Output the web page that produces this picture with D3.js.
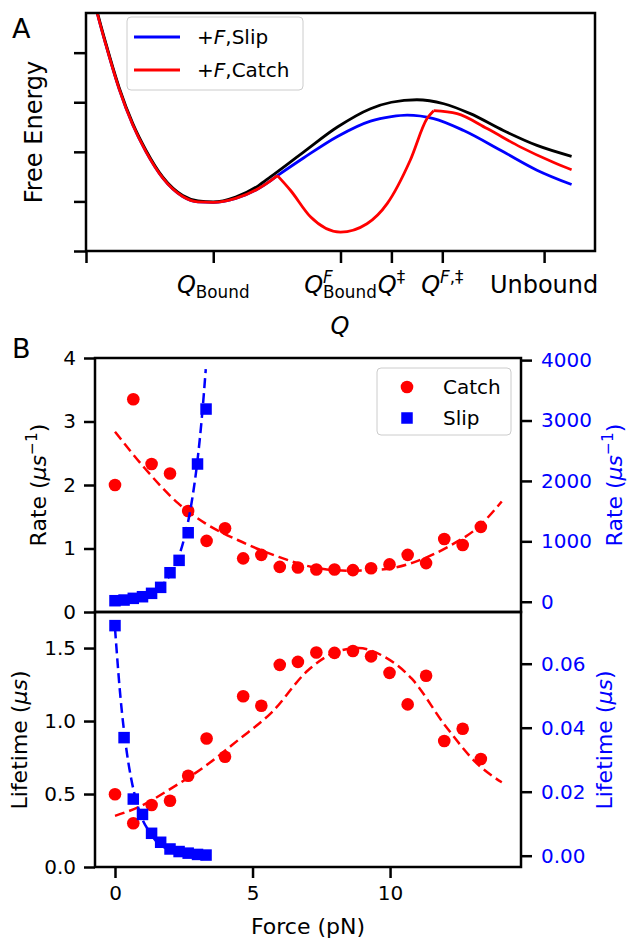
<!DOCTYPE html>
<html lang="en">
<head>
  <meta charset="UTF-8" />
  <title>Catch and slip bonds</title>
  <script src="https://d3js.org/d3.v7.min.js"></script>
  <style>
    body { margin: 0; background: #fff; }
    svg { font-family: "DejaVu Sans", sans-serif; }
    .tick line { stroke-width: 2.5; }
  </style>
</head>
<body>
<script>
  // ---------- Panel A: free energy landscape ----------
  const qTicks = [0, 2.5, 5, 6, 7, 9];
  const qTickLabels = [
    [],
    [["Q", "i"], ["Bound", "_r"]],
    [["Q", "i"], ["F", "^i"], ["Bound", "_r&"]],
    [["Q", "i"], ["‡", "^r"]],
    [["Q", "i"], ["F", "^i"], [",‡", "^r"]],
    [["Unbound", "r"]]
  ];
  const energyTicks = [0, 1, 2, 3, 4];

  // [Q, free energy]
  const freeCurve = [[0.12,5.25],[0.23,4.79],[0.39,4.19],[0.65,3.30],[0.92,2.57],[1.18,2.03],[1.51,1.49],[1.90,1.12],[2.2,1.01],[2.5,0.99],[2.94,1.09],[3.39,1.32],[3.63,1.50],[4.28,2.00],[4.94,2.50],[5.59,2.87],[6.0,3.0],[6.5,3.05],[7.03,2.97],[7.55,2.77],[8.20,2.43],[8.86,2.13],[9.54,1.91]];
  const slipCurve = [[0.12,5.22],[0.23,4.76],[0.39,4.16],[0.65,3.27],[0.92,2.54],[1.18,2.0],[1.51,1.47],[1.90,1.10],[2.2,0.99],[2.5,0.98],[2.94,1.06],[3.39,1.26],[3.63,1.42],[3.76,1.52]];
  const slipCurveRight = [[3.76,1.52],[4.28,1.88],[4.94,2.31],[5.59,2.62],[6.0,2.71],[6.31,2.74],[6.83,2.67],[7.42,2.43],[8.20,2.00],[8.86,1.63],[9.54,1.34]];
  const catchWell = [[3.76,1.52],[4.02,1.22],[4.41,0.69],[5.0,0.38],[5.52,0.55],[5.92,0.96],[6.37,1.83],[6.70,2.67],[6.83,2.83]];
  const catchRight = [[6.83,2.83],[7.29,2.77],[7.88,2.47],[8.53,2.10],[9.18,1.79],[9.54,1.64]];

  // ---------- Panel B: rates and lifetimes ----------
  const catchForce = [0, 0.665, 1.33, 2.0, 2.66, 3.33, 4.0, 4.66, 5.32, 5.99, 6.65, 7.32, 7.98, 8.65, 9.31, 9.98, 10.64, 11.31, 11.97, 12.64, 13.3];
  const catchRate = [2.00, 3.35, 2.33, 2.18, 1.59, 1.12, 1.32, 0.845, 0.90, 0.71, 0.70, 0.67, 0.67, 0.66, 0.69, 0.75, 0.90, 0.77, 1.15, 1.055, 1.34];
  const catchLife = [0.498, 0.30, 0.425, 0.454, 0.625, 0.88, 0.755, 1.17, 1.105, 1.385, 1.405, 1.47, 1.467, 1.48, 1.443, 1.33, 1.114, 1.31, 0.863, 0.947, 0.74];

  const slipForce = [0, 0.33, 0.665, 1.0, 1.33, 1.66, 2.0, 2.33, 2.66, 3.0, 3.31];
  const slipRate = [17, 28, 56, 83, 139, 238, 480, 685, 1142, 2280, 3190];
  const slipLife = [0.0719, 0.0369, 0.0177, 0.0129, 0.0070, 0.0042, 0.0021, 0.0013, 0.0008, 0.0004, 0.0002];

  // dashed fits
  const catchRateFitF = [0, 1.09, 2.30, 3.27, 4.48, 5.94, 7.15, 8.48, 9.70, 10.91, 12.12, 13.21, 14.06];
  const catchRateFit = [2.84, 2.26, 1.71, 1.40, 1.13, 0.87, 0.71, 0.65, 0.67, 0.79, 1.03, 1.34, 1.74];
  const catchLifeFitF = [0, 0.85, 2.06, 3.27, 4.48, 5.70, 7.03, 8.0, 8.85, 9.70, 10.79, 12.0, 13.21, 14.06];
  const catchLifeFit = [0.35, 0.41, 0.54, 0.69, 0.87, 1.06, 1.35, 1.47, 1.50, 1.45, 1.29, 0.97, 0.70, 0.58];
  const slipRateFitF = [0, 0.5, 1.0, 1.5, 2.0, 2.25, 2.5, 2.75, 3.0, 3.15, 3.3];
  const slipRateFit = [16, 36, 84, 193, 443, 672, 1019, 1546, 2345, 3010, 3850];
  const slipLifeFitF = [0, 0.2, 0.4, 0.6, 0.8, 1.0, 1.25, 1.5, 2.0, 2.5, 3.0, 3.3];
  const slipLifeFit = [0.0711, 0.0494, 0.0341, 0.0236, 0.0163, 0.0113, 0.0075, 0.0045, 0.0018, 0.0007, 0.0003, 0.0002];

  const forceTicks = [0, 5, 10];
  const rateTicks = [0, 1, 2, 3, 4];
  const rate2Ticks = [0, 1000, 2000, 3000, 4000];
  const lifeTicks = [0, 0.5, 1.0, 1.5];
  const life2Ticks = [0, 0.02, 0.04, 0.06];

  const svg = d3.select("body").append("svg")
    .attr("width", 628)
    .attr("height", 939);

  // draws a mathtext-like label made of pieces, centred on 0
  function mathText(parent, tokens, size) {
    const g = parent.append("g");
    let x = 0, lastX = 0;
    tokens.forEach(([txt, st]) => {
      const script = st[0] === "^" || st[0] === "_";
      const stack = st.includes("&");
      const fs = script ? size * 0.7 : size;
      const dy = st[0] === "^" ? -size * 0.42 : st[0] === "_" ? size * 0.2 : 0;
      const x0 = stack ? lastX : x;
      const t = g.append("text")
        .attr("x", x0).attr("y", dy)
        .style("font-size", fs + "px")
        .style("font-style", st.includes("i") ? "italic" : "normal")
        .text(txt);
      const w = t.node().getComputedTextLength();
      if (stack) { x = Math.max(x, x0 + w); } else { lastX = x0; x = x0 + w; }
    });
    g.selectAll("text").attr("transform", `translate(${-x / 2},0)`);
    return g;
  }

  function styleAxis(g, size, color) {
    g.select(".domain").remove();
    g.selectAll(".tick line").attr("stroke", "black").attr("stroke-width", 2.5);
    g.selectAll(".tick text")
      .attr("font-size", size)
      .attr("font-family", "DejaVu Sans")
      .attr("fill", color || "black");
  }

  // ----- Panel A -----
  const xA = d3.scaleLinear().domain([0, 10]).range([86, 595]);
  const yA = d3.scaleLinear().domain([0, 4.8]).range([251, 13]);

  svg.append("clipPath").attr("id", "clipA")
    .append("rect").attr("x", 86).attr("y", 13).attr("width", 509).attr("height", 238);

  const gA = svg.append("g");
  styleAxis(gA.append("g")
    .attr("transform", "translate(86,0)")
    .call(d3.axisLeft(yA).tickValues(energyTicks).tickSize(12).tickFormat("")), 20);
  styleAxis(gA.append("g")
    .attr("transform", "translate(0,251)")
    .call(d3.axisBottom(xA).tickValues(qTicks).tickSize(12).tickFormat("")), 20);

  qTicks.forEach((q, i) => {
    const lab = mathText(gA, qTickLabels[i], 24);
    lab.attr("transform", `translate(${xA(q)},293)`);
  });

  const lineA = d3.line().x(d => xA(d[0])).y(d => yA(d[1])).curve(d3.curveMonotoneX);
  const curvesA = gA.append("g").attr("clip-path", "url(#clipA)")
    .attr("fill", "none").attr("stroke-width", 2.8);
  curvesA.append("path").attr("d", lineA(slipCurve)).attr("stroke", "blue");
  curvesA.append("path").attr("d", lineA(slipCurveRight)).attr("stroke", "blue");
  curvesA.append("path").attr("d", lineA(freeCurve)).attr("stroke", "black");
  curvesA.append("path").attr("d", lineA(slipCurve)).attr("stroke", "red");
  curvesA.append("path").attr("d", lineA(catchWell)).attr("stroke", "red");
  curvesA.append("path").attr("d", lineA(catchRight)).attr("stroke", "red");

  gA.append("rect")
    .attr("x", 86).attr("y", 13).attr("width", 509).attr("height", 238)
    .attr("fill", "none").attr("stroke", "black").attr("stroke-width", 2.5);

  // legend A
  const legA = gA.append("g");
  legA.append("rect")
    .attr("x", 127).attr("y", 17).attr("width", 176).attr("height", 73).attr("rx", 4)
    .attr("fill", "white").attr("fill-opacity", 0.8)
    .attr("stroke", "#cccccc").attr("stroke-width", 1);
  [["Slip", "blue", 37], ["Catch", "red", 70]].forEach(([name, col, y]) => {
    legA.append("line").attr("x1", 134).attr("x2", 180).attr("y1", y).attr("y2", y)
      .attr("stroke", col).attr("stroke-width", 3);
    const t = legA.append("text").attr("x", 197).attr("y", y + 7).attr("font-size", 20);
    t.append("tspan").text("+");
    t.append("tspan").style("font-style", "italic").text("F");
    t.append("tspan").text("," + name);
  });

  gA.append("text")
    .attr("transform", "translate(42,132) rotate(-90)")
    .attr("text-anchor", "middle").attr("font-size", 24)
    .text("Free Energy");
  gA.append("text")
    .attr("x", 340).attr("y", 334)
    .attr("text-anchor", "middle").attr("font-size", 24).style("font-style", "italic")
    .text("Q");
  svg.append("text").attr("x", 12).attr("y", 38).attr("font-size", 27).text("A");

  // ----- Panel B -----
  const xB = d3.scaleLinear().domain([-0.727, 14.76]).range([95, 521]);
  const yRate = d3.scaleLinear().domain([0, 4]).range([612, 358]);
  const yRate2 = d3.scaleLinear().domain([-170, 4035]).range([612, 358]);
  const yLife = d3.scaleLinear().domain([0, 1.747]).range([867, 612]);
  const yLife2 = d3.scaleLinear().domain([-0.00353, 0.07616]).range([867, 612]);

  const gB = svg.append("g");
  styleAxis(gB.append("g").attr("transform", "translate(95,0)")
    .call(d3.axisLeft(yRate).tickValues(rateTicks).tickSize(11).tickPadding(8).tickFormat(d3.format("d"))), 20);
  styleAxis(gB.append("g").attr("transform", "translate(521,0)")
    .call(d3.axisRight(yRate2).tickValues(rate2Ticks).tickSize(11).tickPadding(9).tickFormat(d3.format("d"))), 20, "blue");
  styleAxis(gB.append("g").attr("transform", "translate(95,0)")
    .call(d3.axisLeft(yLife).tickValues(lifeTicks).tickSize(11).tickPadding(8).tickFormat(d3.format(".1f"))), 20);
  styleAxis(gB.append("g").attr("transform", "translate(521,0)")
    .call(d3.axisRight(yLife2).tickValues(life2Ticks).tickSize(11).tickPadding(9).tickFormat(d3.format(".2f"))), 20, "blue");
  styleAxis(gB.append("g").attr("transform", "translate(0,867)")
    .call(d3.axisBottom(xB).tickValues(forceTicks).tickSize(11).tickPadding(8).tickFormat(d3.format("d"))), 20);

  const dashed = (sel, col) => sel.attr("fill", "none").attr("stroke", col)
    .attr("stroke-width", 2.5).attr("stroke-dasharray", "10,5");
  const fitLine = (ys) => d3.line().x(d => xB(d[0])).y(d => ys(d[1])).curve(d3.curveMonotoneX);
  const zip = (a, b) => a.map((v, i) => [v, b[i]]);

  // catch (red) on the left axes
  gB.append("path").attr("d", fitLine(yRate)(zip(catchRateFitF, catchRateFit))).call(dashed, "red");
  gB.append("path").attr("d", fitLine(yLife)(zip(catchLifeFitF, catchLifeFit))).call(dashed, "red");
  gB.append("g").selectAll("circle").data(zip(catchForce, catchRate)).join("circle")
    .attr("cx", d => xB(d[0])).attr("cy", d => yRate(d[1])).attr("r", 6.3).attr("fill", "red");
  gB.append("g").selectAll("circle").data(zip(catchForce, catchLife)).join("circle")
    .attr("cx", d => xB(d[0])).attr("cy", d => yLife(d[1])).attr("r", 6.3).attr("fill", "red");

  // slip (blue) on the twin axes
  const sq = 11.5;
  gB.append("g").selectAll("rect").data(zip(slipForce, slipRate)).join("rect")
    .attr("x", d => xB(d[0]) - sq / 2).attr("y", d => yRate2(d[1]) - sq / 2)
    .attr("width", sq).attr("height", sq).attr("fill", "blue");
  gB.append("g").selectAll("rect").data(zip(slipForce, slipLife)).join("rect")
    .attr("x", d => xB(d[0]) - sq / 2).attr("y", d => yLife2(d[1]) - sq / 2)
    .attr("width", sq).attr("height", sq).attr("fill", "blue");
  gB.append("path").attr("d", fitLine(yRate2)(zip(slipRateFitF, slipRateFit))).call(dashed, "blue");
  gB.append("path").attr("d", fitLine(yLife2)(zip(slipLifeFitF, slipLifeFit))).call(dashed, "blue");

  // frames
  [[358, 254], [612, 255]].forEach(([y, h]) => {
    gB.append("rect").attr("x", 95).attr("y", y).attr("width", 426).attr("height", h)
      .attr("fill", "none").attr("stroke", "black").attr("stroke-width", 2.5);
  });

  // legend B
  const legB = gB.append("g");
  legB.append("rect")
    .attr("x", 377).attr("y", 368).attr("width", 134).attr("height", 67).attr("rx", 4)
    .attr("fill", "white").attr("fill-opacity", 0.8)
    .attr("stroke", "#cccccc").attr("stroke-width", 1);
  legB.append("circle").attr("cx", 407).attr("cy", 387).attr("r", 6.3).attr("fill", "red");
  legB.append("rect").attr("x", 407 - sq / 2).attr("y", 418 - sq / 2)
    .attr("width", sq).attr("height", sq).attr("fill", "blue");
  legB.append("text").attr("x", 443).attr("y", 394).attr("font-size", 20).text("Catch");
  legB.append("text").attr("x", 443).attr("y", 425).attr("font-size", 20).text("Slip");

  // axis titles
  function unitLabel(x, y, name, inverse, color) {
    const t = gB.append("text")
      .attr("transform", `translate(${x},${y}) rotate(-90)`)
      .attr("text-anchor", "middle").attr("font-size", 22).attr("fill", color);
    t.append("tspan").text(name + " (");
    t.append("tspan").style("font-style", "italic").text("μs");
    if (inverse) {
      t.append("tspan").attr("font-size", 15.4).attr("dy", -9).text("−1");
      t.append("tspan").attr("dy", 9).text(")");
    } else {
      t.append("tspan").text(")");
    }
  }
  unitLabel(46, 485, "Rate", true, "black");
  unitLabel(622, 485, "Rate", true, "blue");
  unitLabel(27, 740, "Lifetime", false, "black");
  unitLabel(612, 740, "Lifetime", false, "blue");

  gB.append("text").attr("x", 308).attr("y", 934)
    .attr("text-anchor", "middle").attr("font-size", 22).text("Force (pN)");
  svg.append("text").attr("x", 12).attr("y", 358).attr("font-size", 27).text("B");
</script>
</body>
</html>
